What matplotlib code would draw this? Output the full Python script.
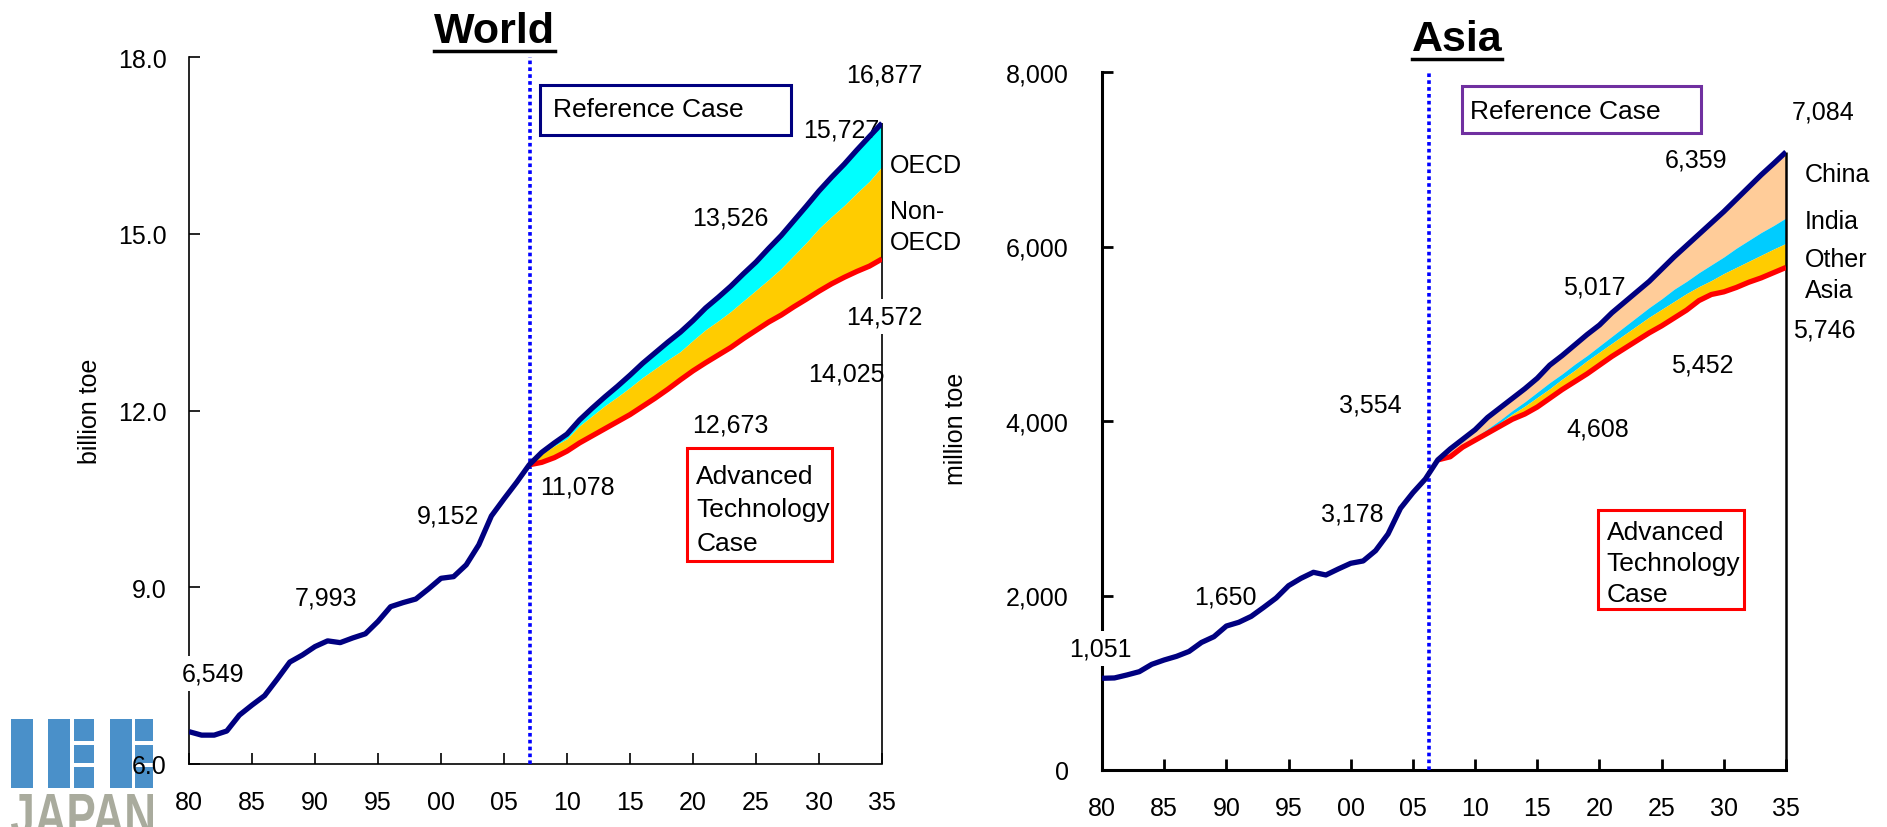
import numpy as np
import matplotlib
matplotlib.use('Agg')
import matplotlib.pyplot as plt
from matplotlib.patches import Rectangle, PathPatch
from matplotlib.lines import Line2D
from matplotlib.textpath import TextPath
from matplotlib.font_manager import FontProperties
from matplotlib.transforms import Affine2D, IdentityTransform

plt.rcParams['font.family'] = ['Liberation Sans', 'DejaVu Sans']

# years
hist_years = list(range(1980, 2008))
proj_years = list(range(2007, 2036))

# World (billion toe)
world_hist = [6.549, 6.49, 6.49, 6.56, 6.83, 7.00, 7.16, 7.44, 7.73, 7.85,
              7.993, 8.09, 8.06, 8.14, 8.21, 8.42, 8.67, 8.74, 8.80, 8.97,
              9.152, 9.18, 9.38, 9.72, 10.21, 10.50, 10.78, 11.078]
world_ref = [11.078, 11.29, 11.45, 11.60, 11.84, 12.04, 12.23, 12.41, 12.60, 12.80,
             12.98, 13.16, 13.33, 13.526, 13.74, 13.92, 14.11, 14.32, 14.52, 14.75,
             14.97, 15.22, 15.47, 15.727, 15.96, 16.18, 16.42, 16.65, 16.877]
world_oecd = [11.078, 11.26, 11.40, 11.52, 11.74, 11.91, 12.08, 12.23, 12.39, 12.56,
              12.71, 12.86, 13.00, 13.19, 13.37, 13.52, 13.68, 13.86, 14.04, 14.22,
              14.41, 14.63, 14.85, 15.09, 15.29, 15.48, 15.69, 15.89, 16.14]
world_adv = [11.078, 11.12, 11.20, 11.31, 11.45, 11.57, 11.69, 11.81, 11.93, 12.07,
             12.21, 12.36, 12.52, 12.673, 12.81, 12.94, 13.07, 13.22, 13.36, 13.50,
             13.62, 13.76, 13.89, 14.025, 14.15, 14.26, 14.36, 14.45, 14.572]

# Asia (million toe)
asia_hist = [1051, 1055, 1089, 1127, 1211, 1261, 1303, 1359, 1462, 1528,
             1650, 1693, 1761, 1864, 1971, 2112, 2197, 2266, 2235, 2304,
             2369, 2396, 2514, 2705, 2999, 3178, 3335, 3554]
asia_ref = [3554, 3680, 3790, 3900, 4040, 4150, 4260, 4370, 4490, 4640,
            4750, 4870, 4990, 5100, 5240, 5360, 5480, 5600, 5740, 5880,
            6010, 6140, 6270, 6400, 6540, 6680, 6820, 6950, 7084]
asia_china = [3554, 3610, 3730, 3810, 3910, 4010, 4120, 4220, 4330, 4440,
              4540, 4650, 4750, 4860, 4970, 5080, 5190, 5300, 5400, 5510,
              5600, 5700, 5790, 5880, 5980, 6070, 6160, 6240, 6327]
asia_india = [3554, 3600, 3720, 3800, 3890, 3980, 4080, 4170, 4270, 4370,
              4480, 4580, 4690, 4790, 4890, 4990, 5090, 5190, 5280, 5370,
              5460, 5540, 5610, 5690, 5760, 5830, 5900, 5970, 6036]
asia_adv = [3554, 3590, 3700, 3780, 3860, 3940, 4020, 4080, 4160, 4260,
            4360, 4450, 4540, 4640, 4740, 4830, 4920, 5010, 5090, 5180,
            5270, 5380, 5450, 5480, 5530, 5590, 5640, 5700, 5760]

xticks = list(range(1980, 2036, 5))
xticklabels = ['80', '85', '90', '95', '00', '05', '10', '15', '20', '25', '30', '35']
world_yticks = [6, 9, 12, 15, 18]
world_yticklabels = ['6.0', '9.0', '12.0', '15.0', '18.0']
asia_yticks = [0, 2000, 4000, 6000, 8000]
asia_yticklabels = ['0', '2,000', '4,000', '6,000', '8,000']

NAVY = '#000080'
W, H = 1887, 828
DOTS = (0, (1, 0.9))

fig = plt.figure(figsize=(W / 100, H / 100), dpi=100)
axW = fig.add_axes([189 / W, (H - 765) / H, 693 / W, 707 / H])
axA = fig.add_axes([1102 / W, (H - 771) / H, 684 / W, 698 / H])


def lab(ax, s, x, y, box=False, ha='center', fs=18, ls=1.2):
    bb = dict(fc='white', ec='none', pad=4) if box else None
    ax.text(x, y, s, fontsize=fs, ha=ha, va='center', zorder=3, bbox=bb,
            linespacing=ls, clip_on=False)


# ---------------- World ----------------
axW.fill_between(proj_years, world_oecd, world_ref, color='#00FFFF', lw=0, zorder=2)
axW.fill_between(proj_years, world_adv, world_oecd, color='#FFCC00', lw=0, zorder=2)
axW.plot(proj_years, world_adv, color='red', lw=3.8, zorder=4, solid_capstyle='butt')
axW.plot(hist_years + proj_years[1:], world_hist + world_ref[1:], color=NAVY, lw=3.8,
         zorder=5, solid_capstyle='butt')
axW.axvline(2007.1, color='blue', lw=2.6, ls=DOTS, zorder=3)
axW.vlines(2035, 6, world_ref[-1], color='black', lw=1.2, zorder=2.6, clip_on=False)

axW.set_xlim(1980, 2035)
axW.set_ylim(6, 18)
axW.set_xticks(xticks)
axW.set_xticklabels(xticklabels)
axW.set_yticks(world_yticks)
axW.set_yticklabels(world_yticklabels)
for s in ['top', 'right']:
    axW.spines[s].set_visible(False)
for s in ['left', 'bottom']:
    axW.spines[s].set_linewidth(1.2)
axW.tick_params(axis='both', direction='in', length=8, width=1.2, labelsize=18)
axW.tick_params(axis='y', pad=16)
axW.tick_params(axis='x', pad=19)

lab(axW, '16,877', 2035.2, 17.71)
lab(axW, '15,727', 2031.8, 16.77)
lab(axW, 'OECD', 2035.6, 16.16, ha='left')
lab(axW, 'Non-\nOECD', 2035.6, 15.12, ha='left', ls=1.4)
lab(axW, '13,526', 2023.0, 15.27)
lab(axW, '14,572', 2035.2, 13.60, box=True)
lab(axW, '14,025', 2032.2, 12.63)
lab(axW, '12,673', 2023.0, 11.76)
lab(axW, '11,078', 2010.8, 10.71)
lab(axW, '9,152', 2000.6, 10.22)
lab(axW, '7,993', 1990.9, 8.82)
lab(axW, '6,549', 1981.9, 7.53, box=True)

axW.add_patch(Rectangle((0.506, 0.889), 0.363, 0.071, transform=axW.transAxes,
                        fc='white', ec=NAVY, lw=2.2, zorder=6))
axW.text(0.525, 0.926, 'Reference Case', transform=axW.transAxes, fontsize=19,
         ha='left', va='center', zorder=7)
axW.add_patch(Rectangle((0.719, 0.287), 0.209, 0.160, transform=axW.transAxes,
                        fc='white', ec='red', lw=2.2, zorder=6))
axW.text(0.732, 0.360, 'Advanced\nTechnology\nCase', transform=axW.transAxes,
         fontsize=19, ha='left', va='center', linespacing=1.5, zorder=7)

# ---------------- Asia ----------------
axA.fill_between(proj_years, asia_china, asia_ref, color='#FFCC99', lw=0, zorder=2)
axA.fill_between(proj_years, asia_india, asia_china, color='#00CCFF', lw=0, zorder=2)
axA.fill_between(proj_years, asia_adv, asia_india, color='#FFCC00', lw=0, zorder=2)
axA.plot(proj_years, asia_adv, color='red', lw=3.8, zorder=4, solid_capstyle='butt')
axA.plot(hist_years + proj_years[1:], asia_hist + asia_ref[1:], color=NAVY, lw=3.8,
         zorder=5, solid_capstyle='butt')
axA.axvline(2006.3, color='blue', lw=2.6, ls=DOTS, zorder=3)
axA.vlines(2035, 0, asia_ref[-1], color='black', lw=1.8, zorder=2.6, clip_on=False)

axA.set_xlim(1980, 2035)
axA.set_ylim(0, 8000)
axA.set_xticks(xticks)
axA.set_xticklabels(xticklabels)
axA.set_yticks(asia_yticks)
axA.set_yticklabels(asia_yticklabels)
for s in ['top', 'right']:
    axA.spines[s].set_visible(False)
for s in ['left', 'bottom']:
    axA.spines[s].set_linewidth(2.2)
axA.tick_params(axis='both', direction='in', length=8, width=2, labelsize=18)
axA.tick_params(axis='y', pad=24)
axA.tick_params(axis='x', pad=19)

lab(axA, '7,084', 2038.0, 7550)
lab(axA, '6,359', 2027.8, 6997)
lab(axA, 'China', 2036.5, 6829, ha='left')
lab(axA, 'India', 2036.5, 6294, ha='left')
lab(axA, 'Other\nAsia', 2036.5, 5682, ha='left', ls=1.35)
lab(axA, '5,017', 2019.6, 5538)
lab(axA, '5,746', 2038.1, 5045, box=True)
lab(axA, '5,452', 2028.3, 4653)
lab(axA, '3,554', 2001.6, 4186)
lab(axA, '4,608', 2019.9, 3915)
lab(axA, '3,178', 2000.1, 2937)
lab(axA, '1,650', 1989.9, 1988)
lab(axA, '1,051', 1979.9, 1393, box=True)

axA.add_patch(Rectangle((0.526, 0.912), 0.350, 0.068, transform=axA.transAxes,
                        fc='white', ec='#7030A0', lw=2.2, zorder=6, clip_on=False))
axA.text(0.538, 0.944, 'Reference Case', transform=axA.transAxes, fontsize=19,
         ha='left', va='center', zorder=7)
axA.add_patch(Rectangle((0.725, 0.230), 0.214, 0.143, transform=axA.transAxes,
                        fc='white', ec='red', lw=2.2, zorder=6))
axA.text(0.738, 0.297, 'Advanced\nTechnology\nCase', transform=axA.transAxes,
         fontsize=19, ha='left', va='center', linespacing=1.36, zorder=7)

# titles / axis labels
tW = fig.text(494 / W, 1 - 43 / H, 'World', fontsize=31, fontweight='bold',
              ha='center', va='baseline')
tA = fig.text(1457 / W, 1 - 51 / H, 'Asia', fontsize=31, fontweight='bold',
              ha='center', va='baseline')
fig.text(90 / W, 0.503, 'billion toe', rotation=90, fontsize=18, ha='center', va='center')
fig.text(956 / W, 0.482, 'million toe', rotation=90, fontsize=18, ha='center', va='center')

fig.canvas.draw()
for t in [tW, tA]:
    bb = t.get_window_extent()
    yy = (bb.y0 + 0.5) / H
    fig.add_artist(Line2D([bb.x0 / W, bb.x1 / W], [yy, yy], color='black', lw=2.5,
                          transform=fig.transFigure))

# logo
BLUE = '#4a90c9'
logo_blocks = [(11, 720, 22, 69), (48, 720, 22, 69),
               (74, 720, 20, 22), (74, 746, 20, 18), (74, 768, 20, 21),
               (110, 720, 22, 69),
               (135, 720, 18, 22), (135, 746, 18, 18), (135, 768, 18, 21)]
for x, y, w, h in logo_blocks:
    fig.add_artist(Rectangle((x / W, 1 - (y + h) / H), w / W, h / H, fc=BLUE, ec='none',
                             transform=fig.transFigure, zorder=-1))
tp = TextPath((0, 0), 'JAPAN', size=1, prop=FontProperties(family='Liberation Sans', weight='bold'))
ext = tp.get_extents()
sx = 142 / ext.width
sy = 42 / ext.height
tr = Affine2D().translate(-ext.x0, -ext.y0).scale(sx, sy).translate(11, H - 795 - 42)
fig.add_artist(PathPatch(tr.transform_path(tp), fc='#a9ab9d', ec='none',
                         transform=IdentityTransform(), zorder=-1))

fig.savefig('out.png', dpi=100)
